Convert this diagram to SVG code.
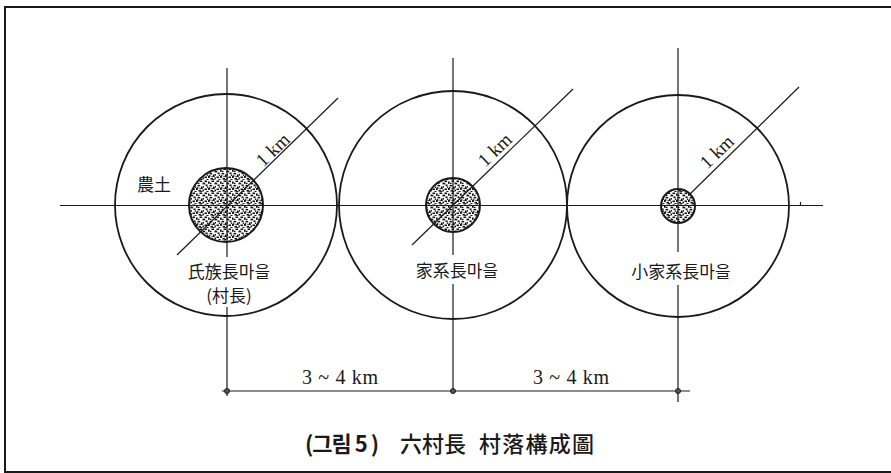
<svg xmlns="http://www.w3.org/2000/svg" width="891" height="473" viewBox="0 0 891 473">
<style>
.ln{stroke:#1a1a1a;stroke-width:1.2;fill:none}
.ring{stroke:#1a1a1a;stroke-width:1.8;fill:none}
.core{stroke:#1a1a1a;stroke-width:2;fill:url(#stip)}
.lbl{font-family:"Noto Sans CJK KR","Noto Sans CJK JP",sans-serif;font-size:17px;fill:#1a1a1a;text-anchor:middle}
.km{font-family:"Liberation Serif","Times New Roman",serif;font-size:19px;fill:#1a1a1a;text-anchor:middle}
.dim{font-family:"Liberation Serif","Times New Roman",serif;font-size:20px;fill:#1a1a1a;text-anchor:middle}
.cap{font-family:"Noto Sans CJK KR","Noto Sans CJK JP",sans-serif;font-size:22px;fill:#1a1a1a}
.dot{fill:#555;stroke:#1a1a1a;stroke-width:1}
</style>
<defs>
<pattern id="stip" width="12" height="12" patternUnits="userSpaceOnUse">
<rect width="12" height="12" fill="#fff"/>
<g fill="#111">
<rect x="0.5" y="0.5" width="2.6" height="1.6"/>
<rect x="4" y="1.5" width="1.7" height="2.3"/>
<rect x="7.5" y="0.5" width="2.6" height="1.5"/>
<rect x="10.5" y="2.5" width="1.5" height="1.9"/>
<rect x="1.5" y="4.5" width="2.1" height="1.6"/>
<rect x="5.5" y="5" width="2.7" height="1.4"/>
<rect x="9" y="6.5" width="1.7" height="2.5"/>
<rect x="0.5" y="8.5" width="2.5" height="1.6"/>
<rect x="4" y="8" width="1.8" height="2"/>
<rect x="6.5" y="10" width="2.5" height="1.6"/>
<rect x="10.5" y="9.5" width="1.5" height="1.8"/>
<rect x="2.5" y="11" width="2" height="1"/>
<rect x="11" y="6" width="1" height="1.6"/>
<rect x="6" y="2.8" width="1.5" height="1.4"/>
<rect x="0" y="2.8" width="1.2" height="1.6"/>
<rect x="8.5" y="11" width="1.9" height="1"/>
<rect x="5" y="7.2" width="1.4" height="1.4"/>
<rect x="7.5" y="7.8" width="1.2" height="1.5"/>
<rect x="2.8" y="6.5" width="1.5" height="1.4"/>
</g>
</pattern>
</defs>
<rect x="0" y="0" width="891" height="473" fill="#fff"/>
<rect x="5" y="7" width="890" height="465" fill="none" stroke="#1a1a1a" stroke-width="2"/>

<g id="village-1">
<circle class="ring" cx="226" cy="205" r="111"/>
<circle class="core" cx="226" cy="205" r="37"/>
<text class="lbl" x="154" y="191" font-size="18">農土</text>
<text class="lbl" x="229" y="278">氏族長마을</text>
<text class="lbl" x="229" y="302">(村長)</text>
<text class="km" transform="translate(273,150) rotate(-44)" y="6">1 km</text>
</g>

<g id="village-2">
<circle class="ring" cx="453" cy="205" r="114"/>
<circle class="core" cx="453" cy="205" r="27"/>
<text class="lbl" x="457" y="277">家系長마을</text>
<text class="km" transform="translate(495,150) rotate(-44)" y="6">1 km</text>
</g>

<g id="village-3">
<circle class="ring" cx="678" cy="206" r="111"/>
<circle class="core" cx="678" cy="206" r="17"/>
<text class="lbl" x="681" y="278">小家系長마을</text>
<text class="km" transform="translate(717,152) rotate(-44)" y="6">1 km</text>
</g>

<g id="connectors">
<line class="ln" x1="60" y1="205.5" x2="823" y2="205.5"/>
<line class="ln" x1="800.5" y1="202" x2="800.5" y2="206"/>
<line class="ln" x1="227" y1="68" x2="227" y2="257"/>
<line class="ln" x1="227" y1="307" x2="227" y2="396"/>
<line class="ln" x1="453" y1="58" x2="453" y2="255"/>
<line class="ln" x1="453" y1="284" x2="453" y2="392"/>
<line class="ln" x1="678" y1="48" x2="678" y2="252"/>
<line class="ln" x1="678" y1="285" x2="678" y2="402"/>
<line class="ln" x1="177" y1="255" x2="338" y2="98"/>
<line class="ln" x1="412" y1="245" x2="573" y2="89"/>
<line class="ln" x1="690" y1="194" x2="799" y2="87"/>
<line class="ln" x1="222" y1="391" x2="690" y2="391"/>
<circle class="dot" cx="227" cy="391" r="2.5"/>
<circle class="dot" cx="453" cy="391" r="2.5"/>
<circle class="dot" cx="678" cy="391" r="2.5"/>
</g>

<g id="dimensions">
<text class="dim" x="340" y="384" textLength="76" lengthAdjust="spacing">3 ~ 4 km</text>
<text class="dim" x="571" y="384" textLength="76" lengthAdjust="spacing">3 ~ 4 km</text>
</g>

<g id="caption">
<text class="cap" x="305" y="452" font-weight="700" textLength="74" lengthAdjust="spacing">(그림 5 )</text>
<text class="cap" x="400" y="452" font-weight="500">六村長</text>
<text class="cap" x="479" y="452" font-weight="500" textLength="115" lengthAdjust="spacing">村落構成圖</text>
</g>
</svg>
